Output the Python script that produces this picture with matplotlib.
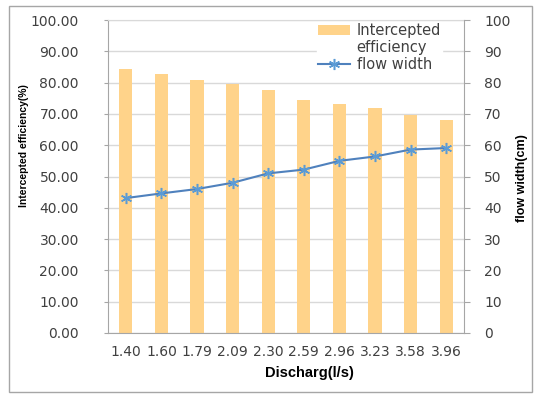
import matplotlib.pyplot as plt
import numpy as np
from matplotlib import font_manager
from matplotlib.patches import Rectangle

discharge = ["1.40", "1.60", "1.79", "2.09", "2.30", "2.59", "2.96", "3.23", "3.58", "3.96"]
efficiency = [84.4, 82.7, 80.8, 79.4, 77.6, 74.6, 73.2, 71.9, 69.6, 67.9]
flow_width = [43.1, 44.6, 46.0, 48.0, 51.0, 52.2, 55.0, 56.4, 58.6, 59.1]

bar_color = "#FFD38A"
line_color = "#4F81BD"
marker_color = "#5B9BD5"
text_color = "#404040"
grid_color = "#D9D9D9"

names = {f.name for f in font_manager.fontManager.ttflist}
if "Liberation Sans Narrow" in names:
    narrow, left_size, right_size = "Liberation Sans Narrow", 8.5, 11.0
else:
    narrow, left_size, right_size = "Liberation Sans", 7.5, 9.0

fig = plt.figure(figsize=(5.41, 3.99), dpi=100)
fig.patches.append(Rectangle((9 / 541, 1 - 392 / 399), 523 / 541, 386 / 399,
                             transform=fig.transFigure, fill=False,
                             edgecolor="#A6A6A6", linewidth=1.0))

ax = fig.add_axes([108 / 541, 1 - 333 / 399, 356 / 541, 313 / 399])
x = np.arange(len(discharge))
bars = ax.bar(x, efficiency, width=0.37, color=bar_color, zorder=2)
ax.set_xlim(-0.5, len(discharge) - 0.5)
ax.set_ylim(0, 100)
ax.set_yticks(np.arange(0, 101, 10))
ax.set_yticklabels([f"{v:.2f}" for v in range(0, 101, 10)])
ax.set_xticks(x)
ax.set_xticklabels(discharge)
ax.yaxis.grid(True, color=grid_color, linewidth=1.0, zorder=0)
ax.set_axisbelow(True)
ax.tick_params(axis="x", colors=text_color, labelsize=10, length=0, pad=9)
ax.tick_params(axis="y", colors=text_color, labelsize=10, length=3,
               color="#A6A6A6", pad=18)
ax.spines["right"].set_visible(False)
ax.spines["top"].set_color(grid_color)
ax.spines["top"].set_zorder(6)
for side in ["left", "bottom"]:
    ax.spines[side].set_color("#A6A6A6")

ax2 = ax.twinx()
line, = ax2.plot(x, flow_width, color=line_color, linewidth=1.5,
                 marker=(6, 2, 0), markersize=8, markeredgecolor=marker_color,
                 markeredgewidth=1.1, zorder=3)
ax2.set_ylim(0, 100)
ax2.set_yticks(np.arange(0, 101, 10))
ax2.tick_params(axis="y", colors=text_color, labelsize=10, length=4,
                color="#A6A6A6", pad=10.5)
for side in ["top", "left", "bottom"]:
    ax2.spines[side].set_visible(False)
ax2.spines["right"].set_color("#A6A6A6")

blank = Rectangle((0, 0), 0, 0, fill=False, edgecolor="none")
leg = ax.legend([bars, blank, line], ["Intercepted", "efficiency", "flow width"],
                loc="upper left", bbox_to_anchor=(310 / 541, 1 - 15 / 399),
                bbox_transform=fig.transFigure, frameon=True, fancybox=False,
                fontsize=10.5, handlelength=2.2, handleheight=0.6,
                labelspacing=0.12, borderpad=0.05, handletextpad=0.45)
leg.get_frame().set_edgecolor("white")
leg.get_frame().set_facecolor("white")
leg.get_frame().set_alpha(1)
for t in leg.get_texts():
    t.set_color(text_color)

fig.text(24 / 541, 1 - 146 / 399, "Intercepted efficiency(%)", rotation=90,
         ha="center", va="center", fontsize=left_size, fontweight="bold",
         family=narrow)
fig.text(522 / 541, 1 - 178 / 399, "flow width(cm)", rotation=90,
         ha="center", va="center", fontsize=right_size, fontweight="bold",
         family=narrow)
fig.text(309 / 541, 1 - 373 / 399, "Discharg(l/s)", ha="center", va="center",
         fontsize=10.5, fontweight="bold", family="Liberation Sans")

fig.savefig("out.png", dpi=100)
